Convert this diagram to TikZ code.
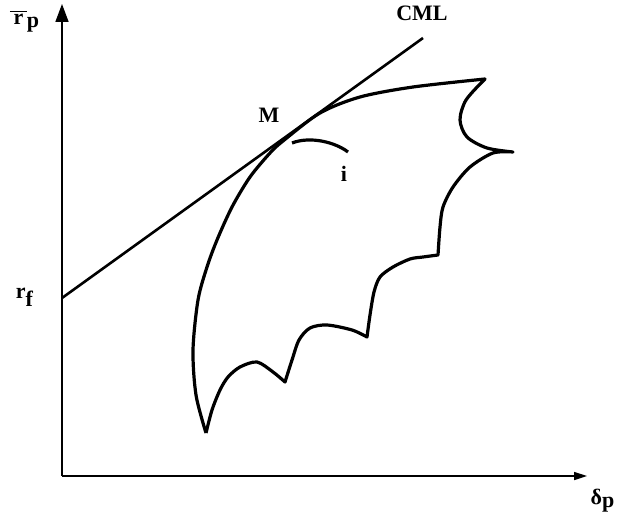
\documentclass[tikz,border=0pt]{standalone}
\usepackage{fontspec}
\setmainfont{Liberation Serif}
\usetikzlibrary{arrows.meta}
\tikzset{
    axis/.style={line width=0.8pt},
    frontier/.style={line width=1.6pt, line join=round},
    cml/.style={line width=1.3pt},
    lbl/.style={inner sep=0pt, font=\fontsize{11}{13}\selectfont\bfseries}
}

\begin{document}
\begin{tikzpicture}[x=0.5pt, y=-0.5pt]
    \useasboundingbox (0,0) rectangle (619,519);

    \coordinate (O) at (62,476);
    \coordinate (ytip) at (62,4);
    \coordinate (xtip) at (587,476);
    \coordinate (rf) at (62,298);
    \coordinate (cmlend) at (423,38);
    \coordinate (M) at (283,141);

    % axes
    \draw[axis, -{Triangle[length=9pt, width=6.5pt]}] (O) -- (ytip);
    \draw[axis, -{Triangle[length=6.5pt, width=4pt]}] (O) -- (xtip);

    % capital market line
    \draw[cml] (rf) -- (cmlend);

    % feasible set
    \draw[frontier]
        plot[smooth] coordinates {(206,433) (196,395) (193,350) (198,300) (207,267) (217,240) (232,207) (250,177) (270,153) (M) (320,113) (360,97) (413,87) (485,79)}
        -- plot[smooth] coordinates {(485,79) (466,100) (460,120) (467,137) (487,148) (513,152)}
        -- plot[smooth] coordinates {(513,152) (493,153) (470,167) (453,187) (443,207) (440,227) (438,255)}
        -- plot[smooth] coordinates {(438,255) (423,257) (410,259) (393,267) (380,277) (374,292) (370,315) (367,337)}
        -- plot[smooth] coordinates {(367,337) (352,330) (327,325) (310,328) (299,340) (292,360) (285,382)}
        -- plot[smooth] coordinates {(285,382) (273,372) (257,362) (240,367) (228,377) (220,390) (212,410) (206,433)};

    % single asset curve
    \draw[frontier] (292,143) .. controls (310,136) and (335,142) .. (348,152);

    % labels
    \node[lbl] (ylbl) at (25,21) {$\overline{\,\textbf{r}\,}_{\textbf{p}}$};
    \node[lbl] (rflbl) at (25,297) {r$_{\textbf{f}}$};
    \node[lbl] (xlbl) at (603,501) {δ$_{\textbf{p}}$};
    \node[lbl] (cmllbl) at (422,13) {CML};
    \node[lbl] (Mlbl) at (269,115) {M};
    \node[lbl] (ilbl) at (344,174) {i};
\end{tikzpicture}
\end{document}
